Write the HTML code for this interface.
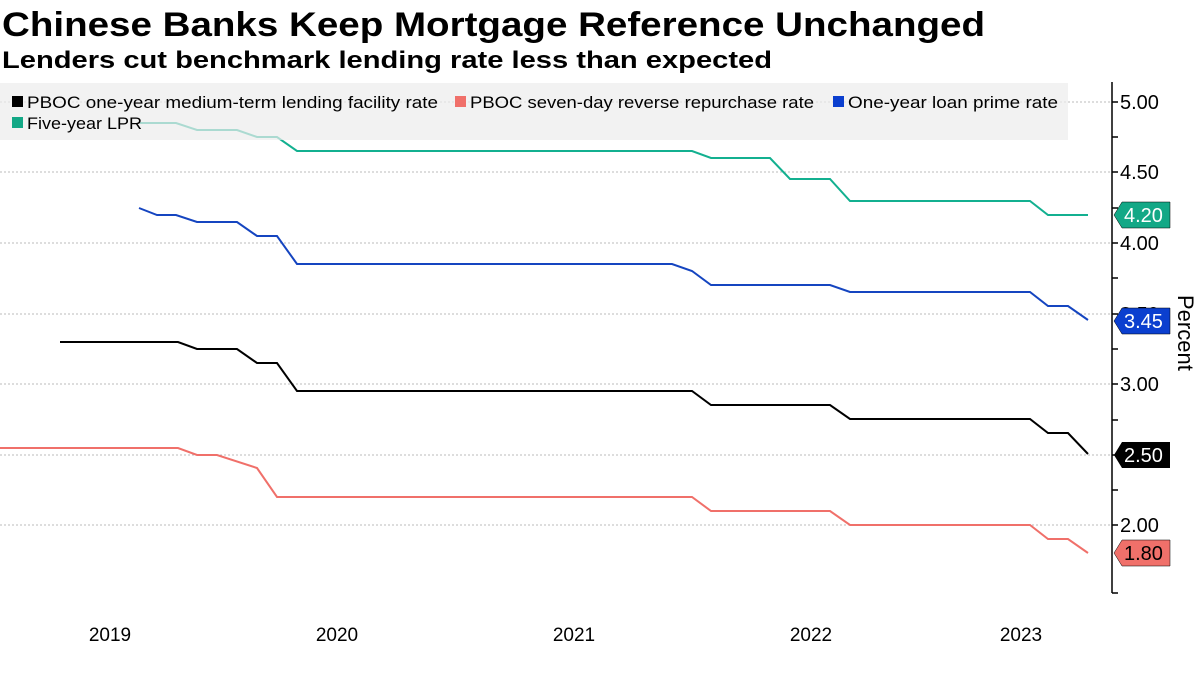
<!DOCTYPE html>
<html><head><style>
body{margin:0;background:#fff;width:1200px;height:672px;overflow:hidden;font-family:"Liberation Sans",sans-serif;}
</style></head><body>
<svg width="1200" height="672" xmlns="http://www.w3.org/2000/svg" font-family="Liberation Sans, sans-serif">
<text x="2" y="36" font-size="34" font-weight="bold" textLength="983" lengthAdjust="spacingAndGlyphs">Chinese Banks Keep Mortgage Reference Unchanged</text>
<text x="2" y="68" font-size="24" font-weight="bold" textLength="770" lengthAdjust="spacingAndGlyphs">Lenders cut benchmark lending rate less than expected</text>
<g stroke="#bbb" stroke-dasharray="2,2" stroke-width="1">
<line x1="0" y1="102" x2="1110" y2="102"/><line x1="0" y1="172" x2="1110" y2="172"/>
<line x1="0" y1="243" x2="1110" y2="243"/><line x1="0" y1="314" x2="1110" y2="314"/>
<line x1="0" y1="384" x2="1110" y2="384"/><line x1="0" y1="455" x2="1110" y2="455"/>
<line x1="0" y1="525" x2="1110" y2="525"/>
</g>
<g fill="none" stroke-width="2">
<polyline stroke="#13b090" points="140,123 176,123 197,130 237,130 257,137 277,137 297,151 692,151 711,158 770,158 790,179 830,179 850,201 1030,201 1048,215 1088,215"/>
<polyline stroke="#1545c0" points="139,208 157,215 176,215 197,222 237,222 257,236 277,236 297,264 672,264 692,271 711,285 830,285 850,292 1030,292 1048,306 1068,306 1088,320"/>
<polyline stroke="#000" points="60,342 178,342 197,349 237,349 257,363 277,363 297,391 692,391 711,405 830,405 850,419 1030,419 1048,433 1068,433 1088,454"/>
<polyline stroke="#f0706a" points="0,448 178,448 197,455 217,455 257,468 277,497 692,497 711,511 830,511 850,525 1030,525 1048,539 1068,539 1088,553"/>
</g>
<rect x="0" y="83" width="1068" height="57" fill="#ececec" fill-opacity="0.7"/>
<g font-size="17">
<rect x="12" y="96" width="11" height="11"/><text x="27" y="108" textLength="411" lengthAdjust="spacingAndGlyphs">PBOC one-year medium-term lending facility rate</text>
<rect x="455" y="96" width="11" height="11" fill="#f0706a"/><text x="470" y="108" textLength="344" lengthAdjust="spacingAndGlyphs">PBOC seven-day reverse repurchase rate</text>
<rect x="833" y="96" width="11" height="11" fill="#0b3fcf"/><text x="848" y="108" textLength="210" lengthAdjust="spacingAndGlyphs">One-year loan prime rate</text>
<rect x="12" y="117" width="11" height="11" fill="#13a886"/><text x="27" y="129" textLength="115" lengthAdjust="spacingAndGlyphs">Five-year LPR</text>
</g>
<line x1="1112" y1="82" x2="1112" y2="593" stroke="#000" stroke-width="1.5"/>
<g stroke="#000" stroke-width="1.5">
<line x1="1112" y1="102" x2="1118" y2="102"/><line x1="1112" y1="137" x2="1118" y2="137"/>
<line x1="1112" y1="172" x2="1118" y2="172"/><line x1="1112" y1="208" x2="1118" y2="208"/>
<line x1="1112" y1="243" x2="1118" y2="243"/><line x1="1112" y1="278" x2="1118" y2="278"/>
<line x1="1112" y1="314" x2="1118" y2="314"/><line x1="1112" y1="349" x2="1118" y2="349"/>
<line x1="1112" y1="384" x2="1118" y2="384"/><line x1="1112" y1="420" x2="1118" y2="420"/>
<line x1="1112" y1="455" x2="1118" y2="455"/><line x1="1112" y1="490" x2="1118" y2="490"/>
<line x1="1112" y1="525" x2="1118" y2="525"/><line x1="1112" y1="593" x2="1118" y2="593"/>
</g>
<g font-size="20">
<text x="1120" y="109">5.00</text><text x="1120" y="179">4.50</text>
<text x="1120" y="250">4.00</text><text x="1120" y="321">3.50</text>
<text x="1120" y="391">3.00</text><text x="1120" y="532">2.00</text>
</g>
<g font-size="20">
<polygon points="1114,215 1122,202 1170,202 1170,228 1122,228" fill="#13a886" stroke="#000" stroke-width="0.5"/><text x="1124" y="222" fill="#fff">4.20</text>
<polygon points="1114,321 1122,308 1170,308 1170,334 1122,334" fill="#0b3fcf" stroke="#000" stroke-width="0.5"/><text x="1124" y="328" fill="#fff">3.45</text>
<polygon points="1114,455 1122,442 1170,442 1170,468 1122,468" fill="#000"/><text x="1124" y="462" fill="#fff">2.50</text>
<polygon points="1114,553 1122,540 1170,540 1170,566 1122,566" fill="#f0706a" stroke="#000" stroke-width="0.5"/><text x="1124" y="560" fill="#000">1.80</text>
</g>
<text transform="translate(1178,295) rotate(90)" font-size="22">Percent</text>
<g font-size="19" text-anchor="middle">
<text x="110" y="641">2019</text><text x="337" y="641">2020</text><text x="574" y="641">2021</text><text x="811" y="641">2022</text><text x="1021" y="641">2023</text>
</g>
</svg>
</body></html>
